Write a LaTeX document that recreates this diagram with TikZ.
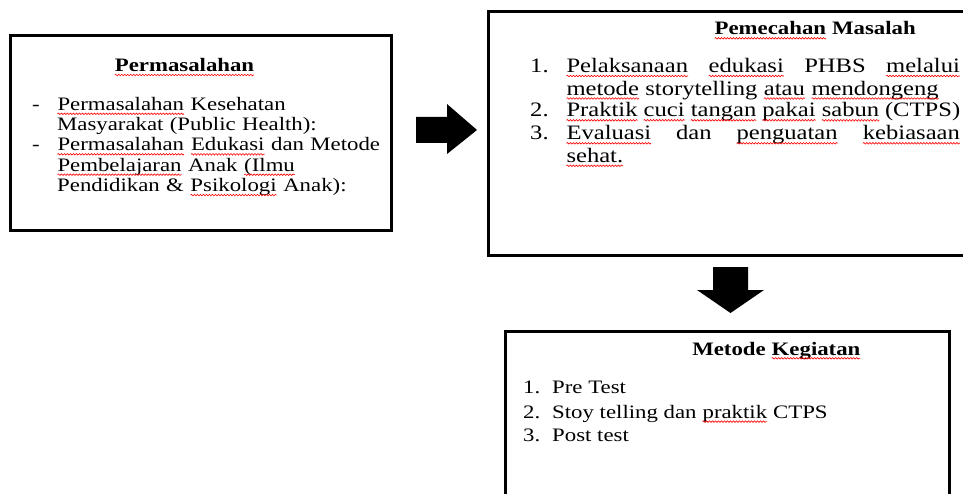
\documentclass[tikz,border=0pt]{standalone}
\usepackage{fontspec}
\setmainfont{Liberation Serif}[FakeStretch=1.2]
\usetikzlibrary{decorations.pathmorphing}
% red wavy underline of the spell checker
\newcommand\sqw[1]{\tikz[baseline=(sqwword.base)]{%
    \node[inner sep=0pt, outer sep=0pt, text width={}, align=none] (sqwword) {#1};
    \draw[red, line width=0.6pt, decorate, decoration={snake, amplitude=0.8pt, segment length=3pt}]
        ([yshift=-3.3pt]sqwword.base west) -- ([yshift=-3.3pt]sqwword.base east);}}

\begin{document}
\begin{tikzpicture}[
        x=1pt, y=-1pt,
        boxframe/.style={draw, line width=3pt},
        boxtitle/.style={font=\fontsize{19}{22}\selectfont\bfseries, anchor=base, inner sep=0pt},
        probtext/.style={font=\fontsize{19}{20.4}\selectfont, text width=330pt, align=left, anchor=base west, inner sep=0pt},
        soltext/.style={font=\fontsize{20.5}{22.5}\selectfont, text width=394pt, align=justify, anchor=base west, inner sep=0pt},
        steptext/.style={font=\fontsize{19}{24}\selectfont, anchor=base west, inner sep=0pt}
    ]
    \useasboundingbox (0,0) rectangle (963,494);
    \clip (0,0) rectangle (963,494);

    % boxes
    \draw[boxframe] (10,36) rectangle (391,231);
    \draw[boxframe] (488,12) rectangle (980,256);
    \draw[boxframe] (505,331) rectangle (949,510);

    % Permasalahan
    \node[boxtitle] (probtitle) at (184.5,71.7) {\sqw{Permasalahan}};
    \node[steptext] (probdash1) at (32,110.5) {-};
    \node[probtext] (probitem1) at (57,110.5) {\sqw{Permasalahan} Kesehatan\\Masyarakat (Public Health):};
    \node[steptext] (probdash2) at (32,151) {-};
    \node[probtext] (probitem2) at (57,151) {\sqw{Permasalahan} \sqw{Edukasi} dan Metode\\\sqw{Pembelajaran} Anak \sqw{(Ilmu}\\Pendidikan \& \sqw{Psikologi} Anak):};

    % Pemecahan Masalah
    \node[boxtitle] (soltitle) at (815,35) {\sqw{Pemecahan} Masalah};
    \node[steptext, font=\fontsize{20.5}{22.5}\selectfont] (solnum1) at (530,72.7) {1.};
    \node[soltext] (solitem1) at (566,72.7) {\sqw{Pelaksanaan} \sqw{edukasi} PHBS \sqw{melalui}\linebreak \sqw{metode} storytelling \sqw{atau} \sqw{mendongeng}};
    \node[steptext, font=\fontsize{20.5}{22.5}\selectfont] (solnum2) at (530,117) {2.};
    \node[soltext] (solitem2) at (566,117) {\sqw{Praktik} \sqw{cuci} \sqw{tangan} \sqw{pakai} \sqw{sabun} (CTPS)};
    \node[steptext, font=\fontsize{20.5}{22.5}\selectfont] (solnum3) at (530,140) {3.};
    \node[soltext] (solitem3) at (566,140) {\sqw{Evaluasi} dan \sqw{penguatan} \sqw{kebiasaan}\linebreak \sqw{sehat.}};

    % Metode Kegiatan
    \node[boxtitle] (steptitle) at (776.5,355) {Metode \sqw{Kegiatan}};
    \node[steptext] (stepnum1) at (523,393.3) {1.};
    \node[steptext] (stepitem1) at (552,393.3) {Pre Test};
    \node[steptext] (stepnum2) at (523,418.3) {2.};
    \node[steptext] (stepitem2) at (552,418.3) {Stoy telling dan \sqw{praktik} CTPS};
    \node[steptext] (stepnum3) at (523,441.7) {3.};
    \node[steptext] (stepitem3) at (552,441.7) {Post test};

    % block arrows
    \fill (416,117) -- (447,117) -- (447,104) -- (477,130) -- (447,154) -- (447,143) -- (416,143) -- cycle;
    \fill (713,267) -- (748,267) -- (748,290) -- (764,290) -- (730.5,313) -- (697,290) -- (713,290) -- cycle;
\end{tikzpicture}
\end{document}
